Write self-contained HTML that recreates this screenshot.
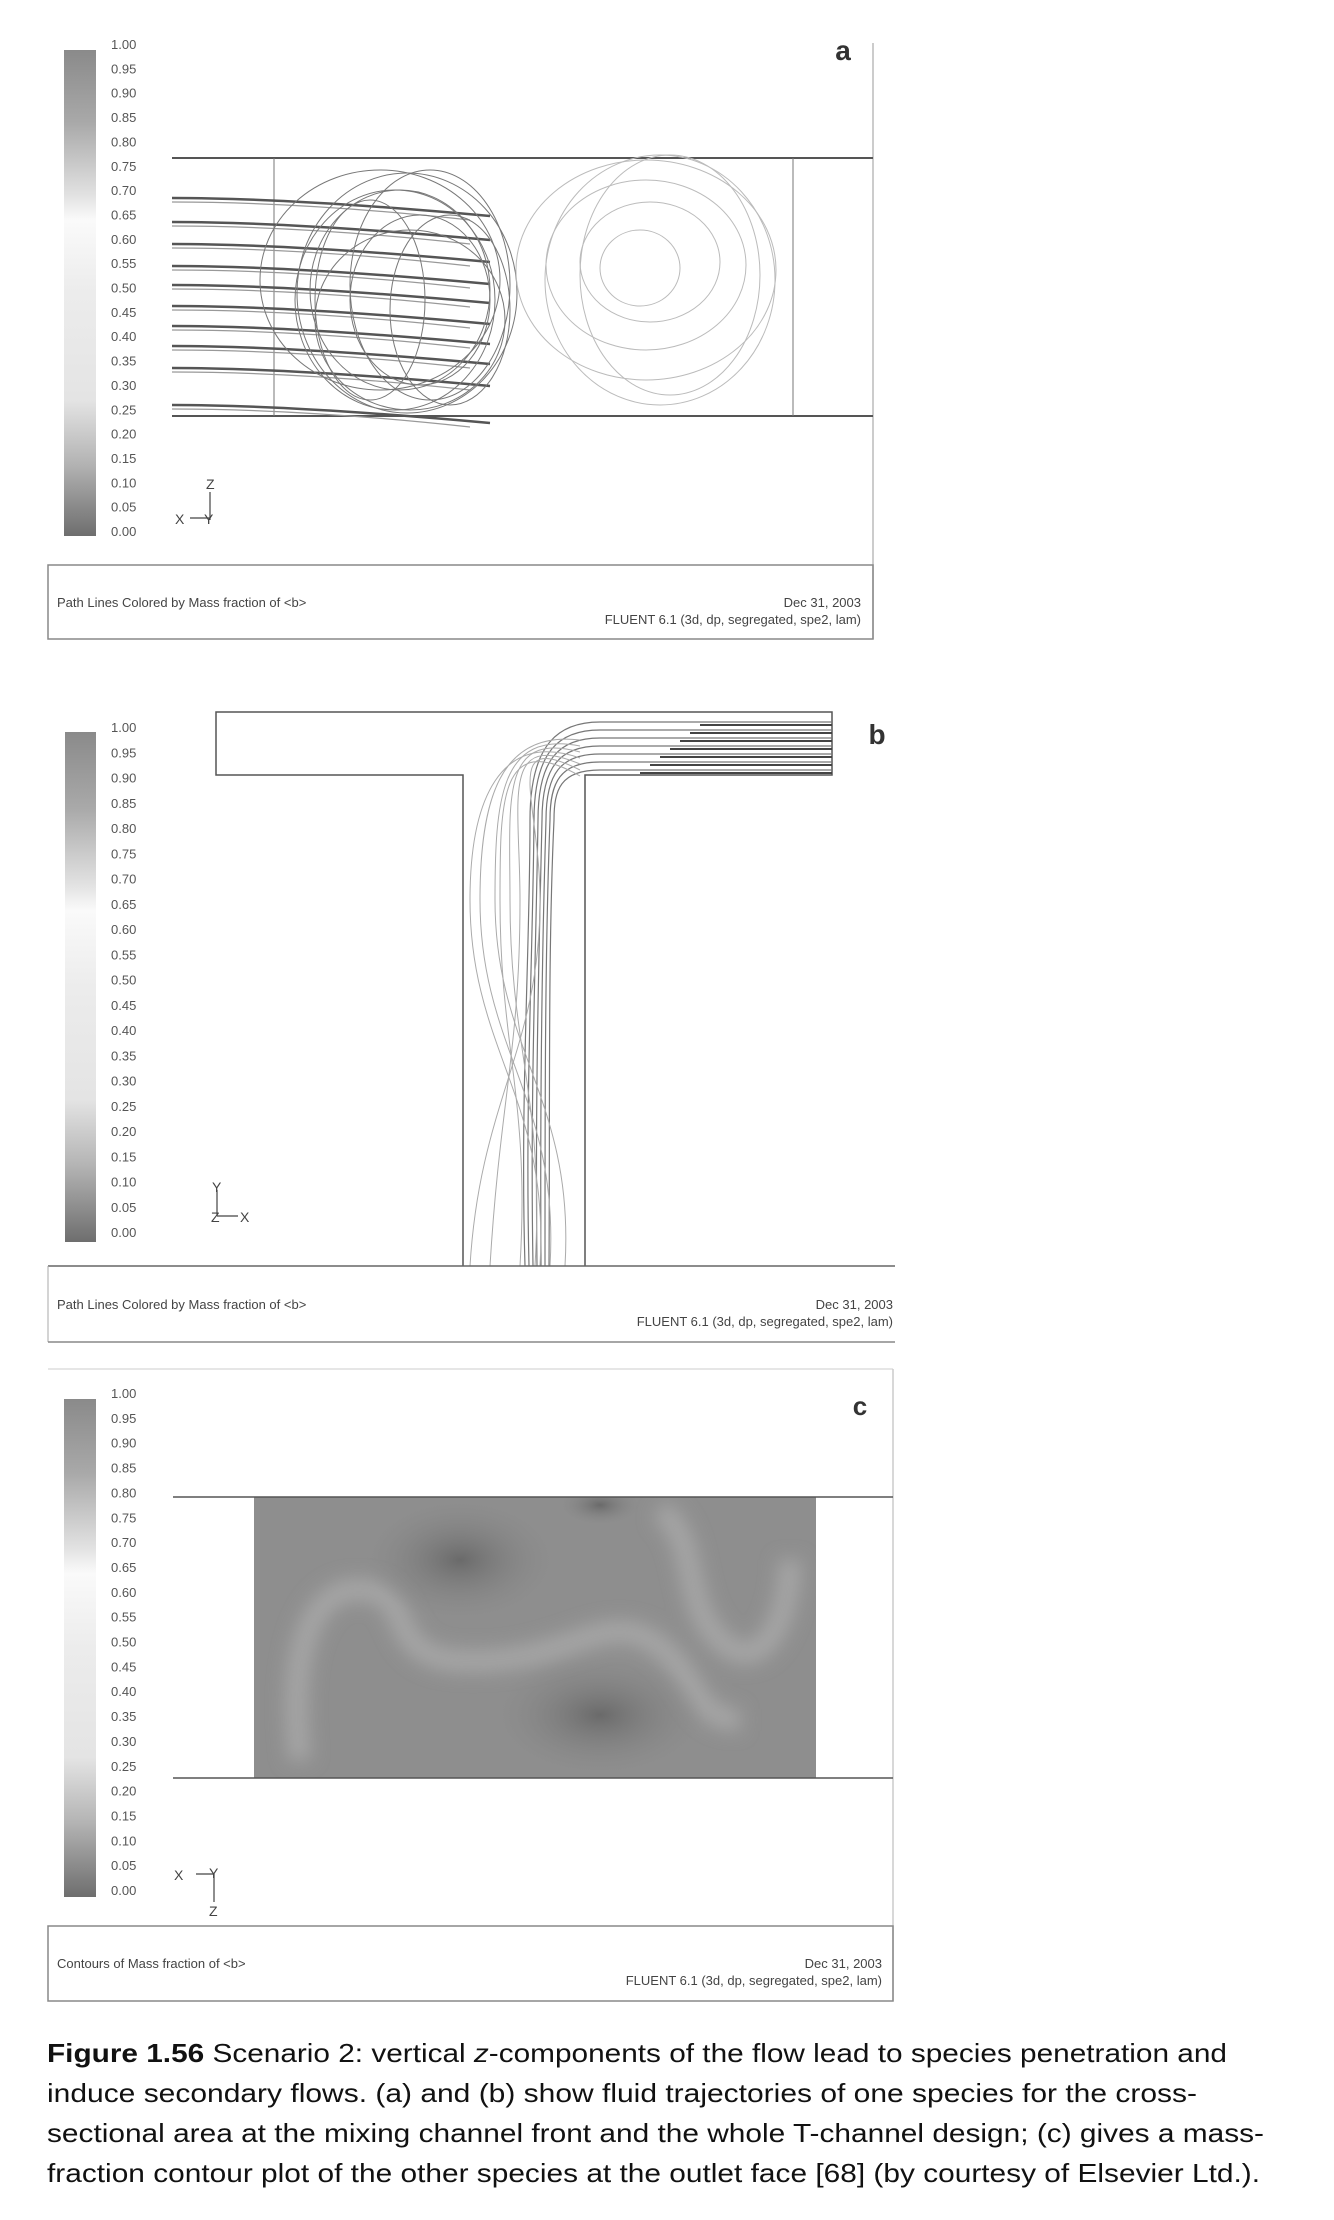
<!DOCTYPE html>
<html><head><meta charset="utf-8">
<style>
html,body{margin:0;padding:0;background:#fff;}
svg{display:block;}
text{font-family:"Liberation Sans",sans-serif;}
</style></head>
<body>
<svg id="fig" width="1334" height="2220" viewBox="0 0 1334 2220" xmlns="http://www.w3.org/2000/svg">
<defs>
<linearGradient id="cbar" x1="0" y1="0" x2="0" y2="1">
<stop offset="0" stop-color="#8a8a8a"/>
<stop offset="0.15" stop-color="#a9a9a9"/>
<stop offset="0.3" stop-color="#e2e2e2"/>
<stop offset="0.35" stop-color="#fafafa"/>
<stop offset="0.5" stop-color="#ececec"/>
<stop offset="0.72" stop-color="#e4e4e4"/>
<stop offset="0.85" stop-color="#b4b4b4"/>
<stop offset="1" stop-color="#6e6e6e"/>
</linearGradient>
<radialGradient id="blob1" cx="0.5" cy="0.5" r="0.5"><stop offset="0" stop-color="#6a6a6a"/><stop offset="1" stop-color="#888" stop-opacity="0"/></radialGradient>
<radialGradient id="blob2" cx="0.5" cy="0.5" r="0.5"><stop offset="0" stop-color="#aaaaaa"/><stop offset="1" stop-color="#a0a0a0" stop-opacity="0"/></radialGradient>
<filter id="blur"><feGaussianBlur stdDeviation="9"/></filter>
<clipPath id="clipC"><rect x="254" y="1497" width="562" height="281"/></clipPath>
</defs>

<!-- Panel a -->
<g>
<rect x="64" y="50" width="32" height="486" fill="url(#cbar)"/>
<g id="labelsA"></g>
<line x1="873" y1="43" x2="873" y2="639" stroke="#bbb" stroke-width="1.5"/>
<line x1="172" y1="158" x2="873" y2="158" stroke="#555" stroke-width="2"/>
<line x1="172" y1="416" x2="873" y2="416" stroke="#555" stroke-width="2"/>
<line x1="274" y1="158" x2="274" y2="416" stroke="#777" stroke-width="1"/>
<line x1="793" y1="158" x2="793" y2="416" stroke="#777" stroke-width="1"/>
<g id="pathA"></g>
<text x="843" y="60" font-size="28" font-weight="bold" fill="#333" text-anchor="middle">a</text>
<g stroke="#444" stroke-width="1.2" fill="none">
<line x1="210" y1="492" x2="210" y2="520"/><line x1="190" y1="518" x2="210" y2="518"/>
</g>
<text x="206" y="489" font-size="14" fill="#444">Z</text>
<text x="175" y="524" font-size="14" fill="#444">X</text>
<text x="204" y="524" font-size="14" fill="#444">Y</text>
<rect x="48" y="565" width="825" height="74" fill="none" stroke="#888" stroke-width="1.5"/>
<text x="57" y="607" font-size="13" fill="#444">Path Lines Colored by Mass fraction of &lt;b&gt;</text>
<text x="861" y="607" font-size="13" fill="#444" text-anchor="end">Dec 31, 2003</text>
<text x="861" y="624" font-size="13" fill="#444" text-anchor="end">FLUENT 6.1 (3d, dp, segregated, spe2, lam)</text>
</g>

<!-- Panel b -->
<g>
<rect x="65" y="732" width="31" height="510" fill="url(#cbar)"/>
<g id="labelsB"></g>
<path d="M463 1266 L463 775 L216 775 L216 712 L832 712 L832 775 L585 775 L585 1266" fill="none" stroke="#555" stroke-width="1.5"/>
<g id="pathB"></g>
<text x="877" y="744" font-size="28" font-weight="bold" fill="#333" text-anchor="middle">b</text>
<g stroke="#444" stroke-width="1.2"><line x1="217" y1="1190" x2="217" y2="1216"/><line x1="217" y1="1216" x2="238" y2="1216"/></g>
<text x="212" y="1192" font-size="14" fill="#444">Y</text>
<text x="211" y="1222" font-size="14" fill="#444">Z</text>
<text x="240" y="1222" font-size="14" fill="#444">X</text>
<line x1="48" y1="1266" x2="895" y2="1266" stroke="#666" stroke-width="1.5"/>
<line x1="48" y1="1266" x2="48" y2="1342" stroke="#aaa" stroke-width="1"/>
<line x1="48" y1="1342" x2="895" y2="1342" stroke="#888" stroke-width="1.5"/>
<text x="57" y="1309" font-size="13" fill="#444">Path Lines Colored by Mass fraction of &lt;b&gt;</text>
<text x="893" y="1309" font-size="13" fill="#444" text-anchor="end">Dec 31, 2003</text>
<text x="893" y="1326" font-size="13" fill="#444" text-anchor="end">FLUENT 6.1 (3d, dp, segregated, spe2, lam)</text>
</g>

<!-- Panel c -->
<g>
<line x1="48" y1="1369" x2="893" y2="1369" stroke="#ddd" stroke-width="1.5"/>
<line x1="893" y1="1369" x2="893" y2="2001" stroke="#ccc" stroke-width="1.5"/>
<rect x="64" y="1399" width="32" height="498" fill="url(#cbar)"/>
<g id="labelsC"></g>
<g clip-path="url(#clipC)">
<rect x="254" y="1497" width="562" height="281" fill="#8e8e8e"/>
<g filter="url(#blur)" fill="none" stroke="#a6a6a6" stroke-width="22">
<path d="M300 1760 C290 1680 300 1600 350 1590 C420 1585 380 1650 450 1660 C560 1670 600 1610 650 1640 C700 1670 690 1720 740 1720"/>
<path d="M660 1510 C700 1540 680 1600 720 1640 C760 1680 790 1620 790 1560"/>
</g>
<ellipse cx="460" cy="1560" rx="95" ry="60" fill="url(#blob1)"/>
<ellipse cx="600" cy="1715" rx="105" ry="60" fill="url(#blob1)"/>
<ellipse cx="600" cy="1505" rx="40" ry="20" fill="url(#blob1)"/>
</g>
<line x1="173" y1="1497" x2="893" y2="1497" stroke="#555" stroke-width="1.5"/>
<line x1="173" y1="1778" x2="893" y2="1778" stroke="#555" stroke-width="1.5"/>
<text x="860" y="1415" font-size="26" font-weight="bold" fill="#333" text-anchor="middle">c</text>
<g stroke="#444" stroke-width="1.2"><line x1="196" y1="1874" x2="214" y2="1874"/><line x1="214" y1="1874" x2="214" y2="1902"/></g>
<text x="174" y="1880" font-size="14" fill="#444">X</text>
<text x="209" y="1878" font-size="14" fill="#444">Y</text>
<text x="209" y="1916" font-size="14" fill="#444">Z</text>
<rect x="48" y="1926" width="845" height="75" fill="none" stroke="#888" stroke-width="1.5"/>
<text x="57" y="1968" font-size="13" fill="#444">Contours of Mass fraction of &lt;b&gt;</text>
<text x="882" y="1968" font-size="13" fill="#444" text-anchor="end">Dec 31, 2003</text>
<text x="882" y="1985" font-size="13" fill="#444" text-anchor="end">FLUENT 6.1 (3d, dp, segregated, spe2, lam)</text>
</g>

<!-- Caption -->
<g font-size="26" fill="#111">
<text x="47" y="2062" textLength="1180" lengthAdjust="spacingAndGlyphs"><tspan font-weight="bold">Figure 1.56</tspan>  Scenario 2: vertical <tspan font-style="italic">z</tspan>-components of the flow lead to species penetration and</text>
<text x="47" y="2102" textLength="1150" lengthAdjust="spacingAndGlyphs">induce secondary flows. (a) and (b) show fluid trajectories of one species for the cross-</text>
<text x="47" y="2142" textLength="1217" lengthAdjust="spacingAndGlyphs">sectional area at the mixing channel front and the whole T-channel design; (c) gives a mass-</text>
<text x="47" y="2182" textLength="1213" lengthAdjust="spacingAndGlyphs">fraction contour plot of the other species at the outlet face [68] (by courtesy of Elsevier Ltd.).</text>
</g>
</svg>
<script>
const tickLabels = ["1.00","0.95","0.90","0.85","0.80","0.75","0.70","0.65","0.60","0.55","0.50","0.45","0.40","0.35","0.30","0.25","0.20","0.15","0.10","0.05","0.00"];
const streakYA = [198,222,244,266,285,306,326,346,368,405];
const streakYB = [722,730,738,746,754,762,770];
const NS = "http://www.w3.org/2000/svg";
function mk(tag, attrs, parent){const e=document.createElementNS(NS,tag);for(const k in attrs)e.setAttribute(k,attrs[k]);parent.appendChild(e);return e;}
function labels(gid, x, yTop, yBot){
  const g=document.getElementById(gid);
  tickLabels.forEach((t,i)=>{
    const y=yTop+(yBot-yTop)*i/(tickLabels.length-1);
    const el=mk('text',{x:x,y:y+5,'font-size':13,fill:'#555'},g);
    
    
    el.textContent=t;
  });
}
labels('labelsA',111,44,531);
labels('labelsB',111,727,1232);
labels('labelsC',111,1393,1890);

// Panel a pathlines
const pa=document.getElementById('pathA');
streakYA.forEach((y,i)=>{
  const p=mk('path',{d:`M172 ${y} C260 ${y} 380 ${y+8} 490 ${y+18}`,stroke:'#555','stroke-width':2.5,fill:'none'},pa);
  
  
  mk('path',{d:`M172 ${y+4} C260 ${y+4} 360 ${y+10} 470 ${y+22}`,stroke:'#999','stroke-width':1.2,fill:'none'},pa);
});
[ [407,293,110,120],[400,290,90,100],[420,300,70,85],[380,280,120,110],[450,310,60,95],[395,300,100,110],[430,285,80,115],[410,320,95,90],[370,300,55,100] ].forEach(e=>{
  const el=mk('ellipse',{cx:e[0],cy:e[1],rx:e[2],ry:e[3],fill:'none',stroke:'#777','stroke-width':1},pa);
  
  
});
[ [646,270,130,110],[646,265,100,85],[650,262,70,60],[640,268,40,38],[660,280,115,125],[670,275,90,120] ].forEach(e=>{
  const el=mk('ellipse',{cx:e[0],cy:e[1],rx:e[2],ry:e[3],fill:'none',stroke:'#bbb','stroke-width':1},pa);
  
  
});

// Panel b pathlines
const pb=document.getElementById('pathB');
streakYB.forEach((y,i)=>{
  const p=mk('path',{d:`M832 ${y} L600 ${y} C560 ${y} ${530+i*4} ${y+20} ${530+i*4} 820 C${530+i*3} 950 ${520+i*5} 1100 ${525+i*4} 1266`,stroke:'#777','stroke-width':1.2,fill:'none'},pb);
  
  
  mk('path',{d:`M832 ${y+3} L${700-i*10} ${y+3}`,stroke:'#444','stroke-width':2},pb);
});
[ [480,560],[495,575],[510,545],[470,550],[520,500],[540,480],[500,530] ].forEach((a,i)=>{
  const p=mk('path',{d:`M580 ${740+i*6} C500 ${730} ${a[0]} 800 ${a[0]} 900 C${a[0]} 1050 ${a[1]} 1100 ${a[1]-10} 1266`,stroke:'#aaa','stroke-width':1,fill:'none'},pb);
  
  
});
</script>
</body></html>
